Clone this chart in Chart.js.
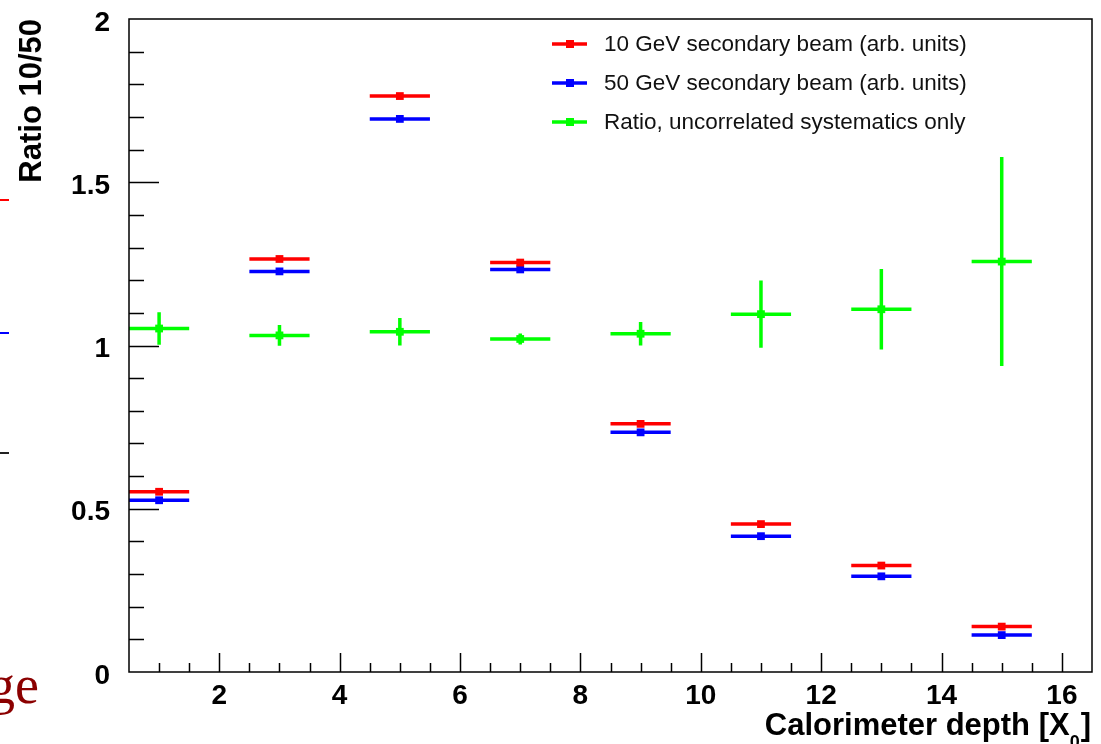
<!DOCTYPE html>
<html>
<head>
<meta charset="utf-8">
<script src="https://cdn.jsdelivr.net/npm/chart.js@4/dist/chart.umd.min.js"></script>
<style>
  html, body { margin: 0; padding: 0; background: #fff; }
  canvas { display: block; }
</style>
</head>
<body>
<canvas id="chart" width="1101" height="744"></canvas>
<script>
// depth bins (bin centres, width 2 X0)
const depth = [1, 3, 5, 7, 9, 11, 13, 15];
const binHalfWidth = [0.5, 0.5, 0.5, 0.5, 0.5, 0.5, 0.5, 0.5];

const beam10 = [0.552, 1.265, 1.764, 1.254, 0.760, 0.453, 0.326, 0.139];
const beam10Err = [0.008, 0.008, 0.008, 0.008, 0.008, 0.008, 0.008, 0.008];
const beam50 = [0.526, 1.227, 1.694, 1.233, 0.734, 0.416, 0.293, 0.113];
const beam50Err = [0.008, 0.008, 0.008, 0.008, 0.008, 0.008, 0.008, 0.008];
const ratio = [1.052, 1.031, 1.042, 1.020, 1.036, 1.096, 1.111, 1.257];
const ratioErr = [0.050, 0.032, 0.042, 0.017, 0.036, 0.103, 0.123, 0.320];

const xTicks = [2, 4, 6, 8, 10, 12, 14, 16];
const yTicks = [0, 0.5, 1, 1.5, 2];

const legendLabels = [
  "10 GeV secondary beam (arb. units)",
  "50 GeV secondary beam (arb. units)",
  "Ratio, uncorrelated systematics only",
];

const RED = "#ff0000", BLUE = "#0000ff", GREEN = "#00ff00";
const FONT = '"Liberation Sans", Arial, Helvetica, sans-serif';

const toPoints = (ys) => depth.map((x, i) => ({ x: x, y: ys[i] }));

const series = [
  { label: legendLabels[0], ys: beam10, err: beam10Err, color: RED },
  { label: legendLabels[1], ys: beam50, err: beam50Err, color: BLUE },
  { label: legendLabels[2], ys: ratio, err: ratioErr, color: GREEN },
];

// error bars drawn under the markers
const errorBars = {
  id: "errorBars",
  beforeDatasetsDraw(chart) {
    const { ctx, scales: { x, y } } = chart;
    ctx.save();
    ctx.lineWidth = 3.5;
    series.forEach((s) => {
      ctx.strokeStyle = s.color;
      depth.forEach((d, i) => {
        const py = y.getPixelForValue(s.ys[i]);
        const px = x.getPixelForValue(d);
        ctx.beginPath();
        ctx.moveTo(x.getPixelForValue(d - binHalfWidth[i]), py);
        ctx.lineTo(x.getPixelForValue(d + binHalfWidth[i]), py);
        ctx.moveTo(px, y.getPixelForValue(s.ys[i] - s.err[i]));
        ctx.lineTo(px, y.getPixelForValue(s.ys[i] + s.err[i]));
        ctx.stroke();
      });
    });
    ctx.restore();
  },
};

// ROOT style frame, inward ticks, titles, legend
const rootFrame = {
  id: "rootFrame",
  afterDraw(chart) {
    const { ctx, chartArea: a, scales: { x, y } } = chart;
    ctx.save();
    ctx.strokeStyle = "#000";
    ctx.lineWidth = 1.5;
    ctx.strokeRect(a.left, a.top, a.right - a.left, a.bottom - a.top);

    // y ticks every 0.1, major every 0.5
    ctx.beginPath();
    for (let k = 1; k < 20; k++) {
      const py = Math.round(y.getPixelForValue(k / 10)) + 0.5;
      const len = k % 5 === 0 ? 30 : 15;
      ctx.moveTo(a.left, py);
      ctx.lineTo(a.left + len, py);
    }
    // x ticks every 0.5, major every 2
    for (let k = 2; k <= 32; k++) {
      const px = Math.round(x.getPixelForValue(k / 2)) + 0.5;
      const len = k % 4 === 0 ? 19 : 9;
      ctx.moveTo(px, a.bottom);
      ctx.lineTo(px, a.bottom - len);
    }
    ctx.stroke();

    // axis titles
    ctx.fillStyle = "#000";
    ctx.font = "bold 31px " + FONT;
    ctx.save();
    ctx.translate(32, 19);
    ctx.rotate(-Math.PI / 2);
    ctx.textAlign = "right";
    ctx.textBaseline = "middle";
    ctx.fillText("Ratio 10/50", 0, 0);
    ctx.restore();

    ctx.textBaseline = "alphabetic";
    ctx.textAlign = "left";
    const main = "Calorimeter depth [X";
    ctx.font = "bold 31px " + FONT;
    const wMain = ctx.measureText(main).width;
    const wClose = ctx.measureText("]").width;
    ctx.font = "bold 18px " + FONT;
    const wSub = ctx.measureText("0").width;
    let tx = 1091 - wClose - wSub - wMain - 1;
    ctx.font = "bold 31px " + FONT;
    ctx.fillText(main, tx, 735);
    tx += wMain;
    ctx.font = "bold 18px " + FONT;
    ctx.fillText("0", tx, 748);
    tx += wSub + 1;
    ctx.font = "bold 31px " + FONT;
    ctx.fillText("]", tx, 735);

    // legend
    ctx.font = "22.5px " + FONT;
    ctx.textBaseline = "middle";
    series.forEach((s, i) => {
      const ly = 44 + i * 39;
      ctx.strokeStyle = s.color;
      ctx.fillStyle = s.color;
      ctx.lineWidth = 3.5;
      ctx.beginPath();
      ctx.moveTo(552, ly);
      ctx.lineTo(587, ly);
      ctx.stroke();
      ctx.fillRect(566, ly - 4, 8, 8);
      ctx.fillStyle = "#111";
      ctx.fillText(s.label, 604, ly + 1);
    });

    // fragments of the slide behind the plot
    ctx.lineWidth = 2;
    [[200, RED], [333, BLUE], [453, "#222"]].forEach(([py, c]) => {
      ctx.strokeStyle = c;
      ctx.beginPath();
      ctx.moveTo(0, py);
      ctx.lineTo(9, py);
      ctx.stroke();
    });
    ctx.fillStyle = "#8b0000";
    ctx.font = '54px "Liberation Serif", "Times New Roman", serif';
    ctx.textBaseline = "alphabetic";
    ctx.fillText("ge", -12, 703);
    ctx.restore();
  },
};

new Chart(document.getElementById("chart"), {
  type: "scatter",
  data: {
    datasets: series.map((s) => ({
      label: s.label,
      data: toPoints(s.ys),
      pointStyle: "rect",
      pointRadius: 5.5,
      pointBackgroundColor: s.color,
      pointBorderColor: s.color,
      pointBorderWidth: 0,
      showLine: false,
    })),
  },
  options: {
    responsive: false,
    animation: false,
    devicePixelRatio: 1,
    layout: { padding: { top: 19, right: 9, left: 0, bottom: 0 } },
    plugins: { legend: { display: false }, tooltip: { enabled: false } },
    scales: {
      x: {
        type: "linear",
        min: 0.5,
        max: 16.5,
        afterBuildTicks: (s) => { s.ticks = xTicks.map((v) => ({ value: v })); },
        afterFit: (s) => { s.height = 72; s.paddingLeft = 0; s.paddingRight = 0; },
        grid: { display: false, drawTicks: false },
        border: { display: false },
        ticks: {
          padding: 7,
          color: "#000",
          font: { family: FONT, size: 28, weight: "bold" },
          maxRotation: 0,
          callback: (v) => String(v),
        },
      },
      y: {
        type: "linear",
        min: 0,
        max: 2,
        afterBuildTicks: (s) => { s.ticks = yTicks.map((v) => ({ value: v })); },
        afterFit: (s) => { s.width = 129; s.paddingTop = 0; s.paddingBottom = 0; },
        grid: { display: false, drawTicks: false },
        border: { display: false },
        ticks: {
          padding: 19,
          labelOffset: 4,
          color: "#000",
          font: { family: FONT, size: 28, weight: "bold" },
          callback: (v) => String(v),
        },
      },
    },
  },
  plugins: [errorBars, rootFrame],
});
</script>
</body>
</html>
